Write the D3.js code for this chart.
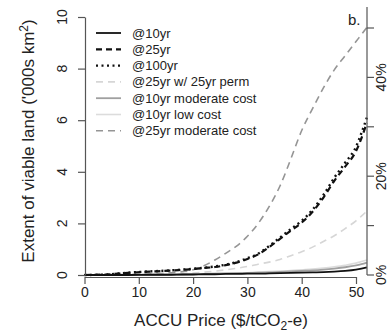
<!DOCTYPE html>
<html><head><meta charset="utf-8">
<script src="https://cdn.jsdelivr.net/npm/d3@7"></script>
<style>body{margin:0;background:#fff}svg{display:block;font-family:"Liberation Sans",Arial,sans-serif}</style>
</head><body><svg id="c" width="387" height="334"></svg>
<script>
const prices = [0,4,8,12,14,16,18,20,22,24,26,28,30,32,34,36,38,40,42,44,46,48,50,51,52];
const s10yr   = [0,0,0,0.01,0.01,0.01,0.02,0.02,0.03,0.03,0.04,0.04,0.05,0.05,0.06,0.07,0.08,0.09,0.1,0.11,0.13,0.16,0.21,0.25,0.3];
const s25yr   = [0,0.02,0.08,0.13,0.15,0.17,0.2,0.23,0.27,0.31,0.38,0.48,0.62,0.8,1.08,1.4,1.72,2.03,2.45,3.0,3.65,4.2,4.8,5.3,5.9];
const s100yr  = [0,0.02,0.09,0.14,0.16,0.18,0.21,0.24,0.28,0.33,0.4,0.5,0.65,0.83,1.12,1.45,1.78,2.1,2.53,3.1,3.77,4.35,4.97,5.5,6.1];
const s25perm = [0,0,0.01,0.01,0.02,0.03,0.05,0.08,0.11,0.15,0.2,0.26,0.33,0.42,0.5,0.6,0.75,0.9,1.08,1.3,1.52,1.8,2.1,2.28,2.48];
const s10mod  = [0,0,0,0.01,0.01,0.02,0.02,0.03,0.04,0.05,0.06,0.07,0.08,0.09,0.1,0.12,0.14,0.16,0.18,0.21,0.25,0.3,0.37,0.42,0.48];
const s10low  = [0,0,0,0.01,0.02,0.02,0.03,0.04,0.05,0.06,0.07,0.08,0.09,0.11,0.13,0.15,0.17,0.2,0.23,0.27,0.32,0.38,0.46,0.52,0.58];
const s25mod  = [0,0.01,0.02,0.04,0.06,0.09,0.13,0.2,0.36,0.58,0.84,1.12,1.5,2.0,2.65,3.45,4.5,5.6,6.45,7.25,7.95,8.5,9.05,9.32,9.6];
const legendLabels = ["@10yr","@25yr","@100yr","@25yr w/ 25yr perm","@10yr moderate cost","@10yr low cost","@25yr moderate cost"];
const xTicks = [0,10,20,30,40,50];
const yTicks = [0,2,4,6,8,10];
const pctTicks = [0,0.1,0.2,0.3,0.4,0.5];
const pctLabels = ["0%","","20%","","40%",""];

const series = [
  {name:legendLabels[0], v:s10yr,   color:"#111", w:1.8, dash:null},
  {name:legendLabels[1], v:s25yr,   color:"#111", w:2.2, dash:"6,4"},
  {name:legendLabels[2], v:s100yr,  color:"#111", w:2.4, dash:"2,3.5"},
  {name:legendLabels[3], v:s25perm, color:"#d6d6d6", w:1.6, dash:"7,5"},
  {name:legendLabels[4], v:s10mod,  color:"#a0a0a0", w:1.8, dash:null},
  {name:legendLabels[5], v:s10low,  color:"#dcdcdc", w:1.6, dash:null},
  {name:legendLabels[6], v:s25mod,  color:"#959595", w:1.6, dash:"7,5"}
];

const svg = d3.select("#c");
const x = d3.scaleLinear().domain([0,50]).range([84.5,356]);
const y = d3.scaleLinear().domain([0,10]).range([275,17]);
const yp = d3.scaleLinear().domain([0,0.5]).range([275,28]);
const axisCol = "#555";
const txtCol = "#222";

const order = [6,3,5,4,0,1,2];
const line = d3.line().x(d=>x(d[0])).y(d=>y(d[1])).curve(d3.curveMonotoneX);
order.forEach(i=>{
  const s = series[i];
  svg.append("path").datum(prices.map((p,k)=>[p,s.v[k]]))
    .attr("d",line).attr("fill","none").attr("stroke",s.color)
    .attr("stroke-width",s.w).attr("stroke-dasharray",s.dash);
});

// left axis
const gl = svg.append("g").attr("transform","translate(85,0)")
  .call(d3.axisLeft(y).tickValues(yTicks).tickSize(7).tickSizeOuter(0));
gl.select(".domain").attr("stroke",axisCol).attr("stroke-width",1.2);
gl.selectAll(".tick line").attr("stroke",axisCol).attr("stroke-width",1.2);
gl.selectAll(".tick text").remove();
yTicks.forEach(t=>{
  svg.append("text").attr("transform",`translate(67,${y(t)}) rotate(-90)`)
    .attr("text-anchor","middle").attr("font-size",14).attr("fill",txtCol).text(t);
});

// bottom axis
const gb = svg.append("g").attr("transform","translate(0,277)")
  .call(d3.axisBottom(x).tickValues(xTicks).tickSize(7).tickSizeOuter(0));
gb.select(".domain").attr("stroke",axisCol).attr("stroke-width",1.2);
gb.selectAll(".tick line").attr("stroke",axisCol).attr("stroke-width",1.2);
gb.selectAll(".tick text").attr("font-size",14).attr("fill",txtCol).attr("font-family","Liberation Sans, Arial, sans-serif").attr("dy","0.9em").attr("y",7);

// right axis
svg.append("line").attr("x1",367).attr("x2",367).attr("y1",7).attr("y2",yp(0))
  .attr("stroke",axisCol).attr("stroke-width",1.2);
pctTicks.forEach((t,i)=>{
  svg.append("line").attr("x1",367).attr("x2",374).attr("y1",yp(t)).attr("y2",yp(t))
    .attr("stroke",axisCol).attr("stroke-width",1.2);
  if(pctLabels[i]) svg.append("text").attr("transform",`translate(386,${yp(t)}) rotate(-90)`)
    .attr("text-anchor","middle").attr("font-size",14).attr("fill",txtCol).text(pctLabels[i]);
});

// titles
svg.append("text").attr("x",221).attr("y",326).attr("text-anchor","middle")
  .attr("font-size",17).attr("fill",txtCol)
  .html('ACCU Price ($/tCO<tspan dy="4" font-size="12">2</tspan><tspan dy="-4">-e)</tspan>');
svg.append("text").attr("transform","translate(34,141) rotate(-90)").attr("text-anchor","middle")
  .attr("font-size",17).attr("fill",txtCol)
  .html("Extent of viable land ('000s  km<tspan dy='-6' font-size='12'>2</tspan><tspan dy='6'>)</tspan>");
svg.append("text").attr("x",348).attr("y",25).attr("font-size",15).attr("fill",txtCol).text("b.");

// legend
series.forEach((s,i)=>{
  const yy = 33 + i*16.3;
  svg.append("line").attr("x1",96).attr("x2",121).attr("y1",yy).attr("y2",yy)
    .attr("stroke",s.color).attr("stroke-width",s.w).attr("stroke-dasharray",s.dash);
  svg.append("text").attr("x",132).attr("y",yy+4.5).attr("font-size",13).attr("fill",txtCol).text(s.name);
});
</script></body></html>
